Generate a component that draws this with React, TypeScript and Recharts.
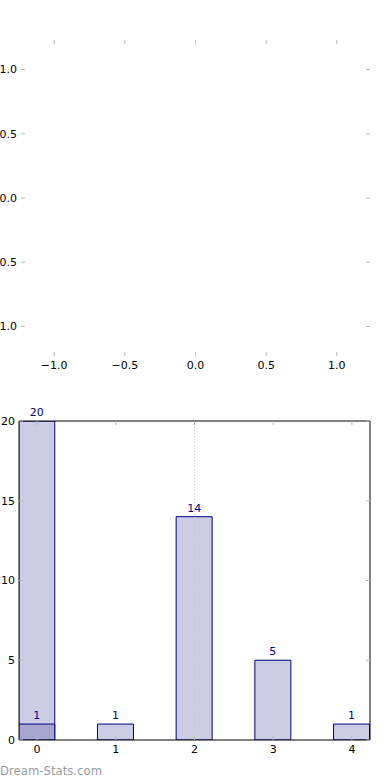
import React from 'react';
import {
    ScatterChart,
    Scatter,
    BarChart,
    Bar,
    XAxis,
    YAxis,
    LabelList,
    ReferenceLine,
} from 'recharts';

// empty upper panel
const emptyTicks = [-1, -0.5, 0, 0.5, 1];

// histogram panel
const bins = [0, 1, 2, 3, 4];
const counts = [20, 1, 14, 5, 1];
const highlight = [1, null, null, null, null];
const countTicks = [0, 5, 10, 15, 20];
const markerBin = 2;

const FONT = '"DejaVu Sans", sans-serif';
const TICK_GRAY = '#b4b4b4';
const NAVY = '#000080';

const fmt1 = (v: number) => (v < 0 ? '\u2212' + Math.abs(v).toFixed(1) : v.toFixed(1));
const fmt0 = (v: number) => String(v);

const barData = bins.map((bin, i) => ({
    bin,
    count: counts[i],
    highlight: highlight[i],
}));

const makeTick = (side: 'bottom' | 'top' | 'left' | 'right', format?: (v: number) => string) =>
    (props: any) => {
        const { x, y, payload } = props;
        const len = 4;
        if (side === 'bottom') {
            return (
                <g>
                    <line x1={x} x2={x} y1={y} y2={y - len} stroke={TICK_GRAY} />
                    {format && (
                        <text x={x} y={y + 13} textAnchor='middle' fontSize={11} fontFamily={FONT} fill='#000'>
                            {format(payload.value)}
                        </text>
                    )}
                </g>
            );
        }
        if (side === 'top') {
            return <line x1={x} x2={x} y1={y} y2={y + len} stroke={TICK_GRAY} />;
        }
        if (side === 'left') {
            return (
                <g>
                    <line x1={x} x2={x + len} y1={y} y2={y} stroke={TICK_GRAY} />
                    {format && (
                        <text x={x - 4} y={y} dy='0.35em' textAnchor='end' fontSize={11} fontFamily={FONT} fill='#000'>
                            {format(payload.value)}
                        </text>
                    )}
                </g>
            );
        }
        return <line x1={x} x2={x - len} y1={y} y2={y} stroke={TICK_GRAY} />;
    };

const App = () => {
    return (
        <div style={{ position: 'absolute', left: 0, top: 0, width: 390, height: 780, background: '#fff' }}>
            <div style={{ position: 'absolute', left: 0, top: 0 }}>
                <ScatterChart width={390} height={390} margin={{ top: 39, right: 19, bottom: 14, left: 6 }}>
                    <XAxis xAxisId='b' type='number' dataKey='x' domain={[-1.235, 1.235]} ticks={emptyTicks}
                        allowDataOverflow height={20} tickSize={0} tickMargin={0} axisLine={false} tickLine={false}
                        interval={0} tick={makeTick('bottom', fmt1)} />
                    <XAxis xAxisId='t' type='number' dataKey='x' orientation='top' domain={[-1.235, 1.235]}
                        ticks={emptyTicks} allowDataOverflow height={1} tickSize={0} tickMargin={0}
                        axisLine={false} tickLine={false} interval={0} tick={makeTick('top')} />
                    <YAxis yAxisId='l' type='number' dataKey='y' domain={[-1.23, 1.23]} ticks={emptyTicks}
                        allowDataOverflow width={15} tickSize={0} tickMargin={0} axisLine={false} tickLine={false}
                        interval={0} tick={makeTick('left', fmt1)} />
                    <YAxis yAxisId='r' type='number' dataKey='y' orientation='right' domain={[-1.23, 1.23]}
                        ticks={emptyTicks} allowDataOverflow width={1} tickSize={0} tickMargin={0}
                        axisLine={false} tickLine={false} interval={0} tick={makeTick('right')} />
                    <Scatter xAxisId='b' yAxisId='l' data={[]} isAnimationActive={false} />
                </ScatterChart>
            </div>
            <div style={{ position: 'absolute', left: 0, top: 390 }}>
                <BarChart width={390} height={390} data={barData} margin={{ top: 30, right: 19, bottom: 20, left: 4 }}>
                    <XAxis xAxisId='b' type='number' dataKey='bin' domain={[-0.23, 4.23]} ticks={bins}
                        allowDataOverflow height={20} tickSize={0} tickMargin={0} axisLine={{ stroke: '#000' }}
                        tickLine={false} interval={0} tick={makeTick('bottom', fmt0)} />
                    <XAxis xAxisId='t' type='number' dataKey='bin' orientation='top' domain={[-0.23, 4.23]}
                        ticks={bins} allowDataOverflow height={1} tickSize={0} tickMargin={0}
                        axisLine={{ stroke: '#000' }} tickLine={false} interval={0} tick={makeTick('top')} />
                    <YAxis yAxisId='l' type='number' domain={[0, 20]} ticks={countTicks} allowDataOverflow
                        width={15} tickSize={0} tickMargin={0} axisLine={{ stroke: '#000' }} tickLine={false}
                        interval={0} tick={makeTick('left', fmt0)} />
                    <YAxis yAxisId='r' type='number' orientation='right' domain={[0, 20]} ticks={countTicks}
                        allowDataOverflow width={1} tickSize={0} tickMargin={0} axisLine={{ stroke: '#000' }}
                        tickLine={false} interval={0} tick={makeTick('right')} />
                    <Bar xAxisId='b' yAxisId='l' dataKey='count' barSize={36} fill='#ccccE4' stroke={NAVY}
                        strokeWidth={1} isAnimationActive={false}>
                        <LabelList dataKey='count' position='top' fill={NAVY} fontSize={11} fontFamily={FONT} />
                    </Bar>
                    <Bar xAxisId='t' yAxisId='l' dataKey='highlight' barSize={36} fill='#a6a6d0' stroke={NAVY}
                        strokeWidth={1} isAnimationActive={false}>
                        <LabelList dataKey='highlight' position='top' fill={NAVY} fontSize={11} fontFamily={FONT} />
                    </Bar>
                    <ReferenceLine xAxisId='b' yAxisId='l' x={markerBin} stroke='#c4c4c4' strokeDasharray='1 2' />
                </BarChart>
            </div>
            <div style={{ position: 'absolute', left: 0, top: 763, fontFamily: '"DejaVu Sans Condensed", "DejaVu Sans", sans-serif', fontSize: 13, color: '#9a9a9a', lineHeight: '16px' }}>
                Dream-Stats.com
            </div>
        </div>
    );
};

export default App;
